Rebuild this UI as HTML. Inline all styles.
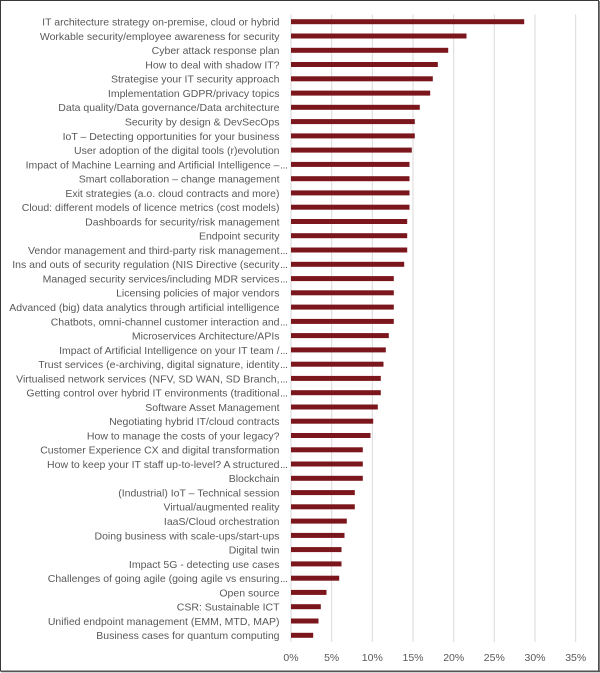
<!DOCTYPE html>
<html>
<head>
<meta charset="utf-8">
<style>
html,body{margin:0;padding:0;background:#fff;}
svg{display:block;}
text{font-family:"Liberation Sans",Arial,sans-serif;fill:#595959;font-size:10.5px;}
</style>
</head>
<body>
<svg width="600" height="673" viewBox="0 0 600 673" xmlns="http://www.w3.org/2000/svg">
<rect x="0" y="0" width="600" height="673" fill="#fff"/>
<!-- border -->
<rect x="0.5" y="0.5" width="598" height="670.5" fill="none" stroke="#3a3a3a" stroke-width="1"/>
<line x1="599" y1="1" x2="599" y2="672" stroke="#555" stroke-width="1.5"/>
<line x1="1" y1="671.5" x2="600" y2="671.5" stroke="#555" stroke-width="1.5"/>
<!-- gridlines -->
<g stroke="#d9d9d9" stroke-width="1">
<line x1="291" y1="14.5" x2="291" y2="642"/>
<line x1="331.7" y1="14.5" x2="331.7" y2="642"/>
<line x1="372.3" y1="14.5" x2="372.3" y2="642"/>
<line x1="413" y1="14.5" x2="413" y2="642"/>
<line x1="453.7" y1="14.5" x2="453.7" y2="642"/>
<line x1="494.3" y1="14.5" x2="494.3" y2="642"/>
<line x1="535" y1="14.5" x2="535" y2="642"/>
<line x1="575.7" y1="14.5" x2="575.7" y2="642"/>
</g>
<!-- bars -->
<g fill="#7b161c">
<rect x="291" y="19.2" width="233.2" height="5"/>
<rect x="291" y="33.5" width="175.5" height="5"/>
<rect x="291" y="47.8" width="157.2" height="5"/>
<rect x="291" y="62.0" width="146.8" height="5"/>
<rect x="291" y="76.3" width="141.8" height="5"/>
<rect x="291" y="90.6" width="139.2" height="5"/>
<rect x="291" y="104.8" width="128.8" height="5"/>
<rect x="291" y="119.1" width="123.8" height="5"/>
<rect x="291" y="133.4" width="123.8" height="5"/>
<rect x="291" y="147.6" width="120.8" height="5"/>
<rect x="291" y="161.9" width="118.5" height="5"/>
<rect x="291" y="176.2" width="118.5" height="5"/>
<rect x="291" y="190.4" width="118.5" height="5"/>
<rect x="291" y="204.7" width="118.5" height="5"/>
<rect x="291" y="219.0" width="116.2" height="5"/>
<rect x="291" y="233.2" width="116.2" height="5"/>
<rect x="291" y="247.5" width="116.2" height="5"/>
<rect x="291" y="261.8" width="113.2" height="5"/>
<rect x="291" y="276.1" width="102.8" height="5"/>
<rect x="291" y="290.3" width="102.8" height="5"/>
<rect x="291" y="304.6" width="102.8" height="5"/>
<rect x="291" y="318.9" width="102.8" height="5"/>
<rect x="291" y="333.1" width="97.8" height="5"/>
<rect x="291" y="347.4" width="94.8" height="5"/>
<rect x="291" y="361.7" width="92.5" height="5"/>
<rect x="291" y="375.9" width="89.8" height="5"/>
<rect x="291" y="390.2" width="89.8" height="5"/>
<rect x="291" y="404.5" width="86.8" height="5"/>
<rect x="291" y="418.7" width="82.2" height="5"/>
<rect x="291" y="433.0" width="79.5" height="5"/>
<rect x="291" y="447.3" width="71.8" height="5"/>
<rect x="291" y="461.5" width="71.8" height="5"/>
<rect x="291" y="475.8" width="71.8" height="5"/>
<rect x="291" y="490.1" width="63.8" height="5"/>
<rect x="291" y="504.3" width="63.8" height="5"/>
<rect x="291" y="518.6" width="55.8" height="5"/>
<rect x="291" y="532.9" width="53.5" height="5"/>
<rect x="291" y="547.1" width="50.5" height="5"/>
<rect x="291" y="561.4" width="50.5" height="5"/>
<rect x="291" y="575.7" width="48.2" height="5"/>
<rect x="291" y="589.9" width="35.5" height="5"/>
<rect x="291" y="604.2" width="29.8" height="5"/>
<rect x="291" y="618.5" width="27.5" height="5"/>
<rect x="291" y="632.8" width="22.2" height="5"/>
</g>
<!-- labels -->
<g text-anchor="end">
<text x="279.5" y="25.6">IT architecture strategy on-premise, cloud or hybrid</text>
<text x="279.5" y="39.9">Workable security/employee awareness for security</text>
<text x="279.5" y="54.2">Cyber attack response plan</text>
<text x="279.5" y="68.4">How to deal with shadow IT?</text>
<text x="279.5" y="82.7">Strategise your IT security approach</text>
<text x="279.5" y="97.0">Implementation GDPR/privacy topics</text>
<text x="279.5" y="111.2">Data quality/Data governance/Data architecture</text>
<text x="279.5" y="125.5">Security by design &amp; DevSecOps</text>
<text x="279.5" y="139.8">IoT – Detecting opportunities for your business</text>
<text x="279.5" y="154.0">User adoption of the digital tools (r)evolution</text>
<text x="279.5" y="168.3">Impact of Machine Learning and Artificial Intelligence –</text>
<text x="279.5" y="182.6">Smart collaboration – change management</text>
<text x="279.5" y="196.8">Exit strategies (a.o. cloud contracts and more)</text>
<text x="279.5" y="211.1">Cloud: different models of licence metrics (cost models)</text>
<text x="279.5" y="225.4">Dashboards for security/risk management</text>
<text x="279.5" y="239.6">Endpoint security</text>
<text x="279.5" y="253.9">Vendor management and third-party risk management</text>
<text x="279.5" y="268.2">Ins and outs of security regulation (NIS Directive (security</text>
<text x="279.5" y="282.5">Managed security services/including MDR services</text>
<text x="279.5" y="296.7">Licensing policies of major vendors</text>
<text x="279.5" y="311.0">Advanced (big) data analytics through artificial intelligence</text>
<text x="279.5" y="325.3">Chatbots, omni-channel customer interaction and</text>
<text x="279.5" y="339.5">Microservices Architecture/APIs</text>
<text x="279.5" y="353.8">Impact of Artificial Intelligence on your IT team /</text>
<text x="279.5" y="368.1">Trust services (e-archiving, digital signature, identity</text>
<text x="279.5" y="382.3">Virtualised network services (NFV, SD WAN, SD Branch,</text>
<text x="279.5" y="396.6">Getting control over hybrid IT environments (traditional</text>
<text x="279.5" y="410.9">Software Asset Management</text>
<text x="279.5" y="425.1">Negotiating hybrid IT/cloud contracts</text>
<text x="279.5" y="439.4">How to manage the costs of your legacy?</text>
<text x="279.5" y="453.7">Customer Experience CX and digital transformation</text>
<text x="279.5" y="467.9">How to keep your IT staff up-to-level? A structured</text>
<text x="279.5" y="482.2">Blockchain</text>
<text x="279.5" y="496.5">(Industrial) IoT – Technical session</text>
<text x="279.5" y="510.7">Virtual/augmented reality</text>
<text x="279.5" y="525.0">IaaS/Cloud orchestration</text>
<text x="279.5" y="539.3">Doing business with scale-ups/start-ups</text>
<text x="279.5" y="553.5">Digital twin</text>
<text x="279.5" y="567.8">Impact 5G - detecting use cases</text>
<text x="279.5" y="582.1">Challenges of going agile (going agile vs ensuring</text>
<text x="279.5" y="596.3">Open source</text>
<text x="279.5" y="610.6">CSR: Sustainable ICT</text>
<text x="279.5" y="624.9">Unified endpoint management (EMM, MTD, MAP)</text>
<text x="279.5" y="639.2">Business cases for quantum computing</text>
</g>
<!-- ellipses -->
<g letter-spacing="-0.4">
<text x="280" y="168.3">...</text>
<text x="280" y="253.9">...</text>
<text x="280" y="268.2">...</text>
<text x="280" y="282.5">...</text>
<text x="280" y="325.3">...</text>
<text x="280" y="353.8">...</text>
<text x="280" y="368.1">...</text>
<text x="280" y="382.3">...</text>
<text x="280" y="396.6">...</text>
<text x="280" y="467.9">...</text>
<text x="280" y="582.1">...</text>
</g>
<!-- x-axis tick labels -->
<g text-anchor="middle">
<text x="291" y="661">0%</text>
<text x="331.7" y="661">5%</text>
<text x="372.3" y="661">10%</text>
<text x="413" y="661">15%</text>
<text x="453.7" y="661">20%</text>
<text x="494.3" y="661">25%</text>
<text x="535" y="661">30%</text>
<text x="575.7" y="661">35%</text>
</g>
</svg>
</body>
</html>
